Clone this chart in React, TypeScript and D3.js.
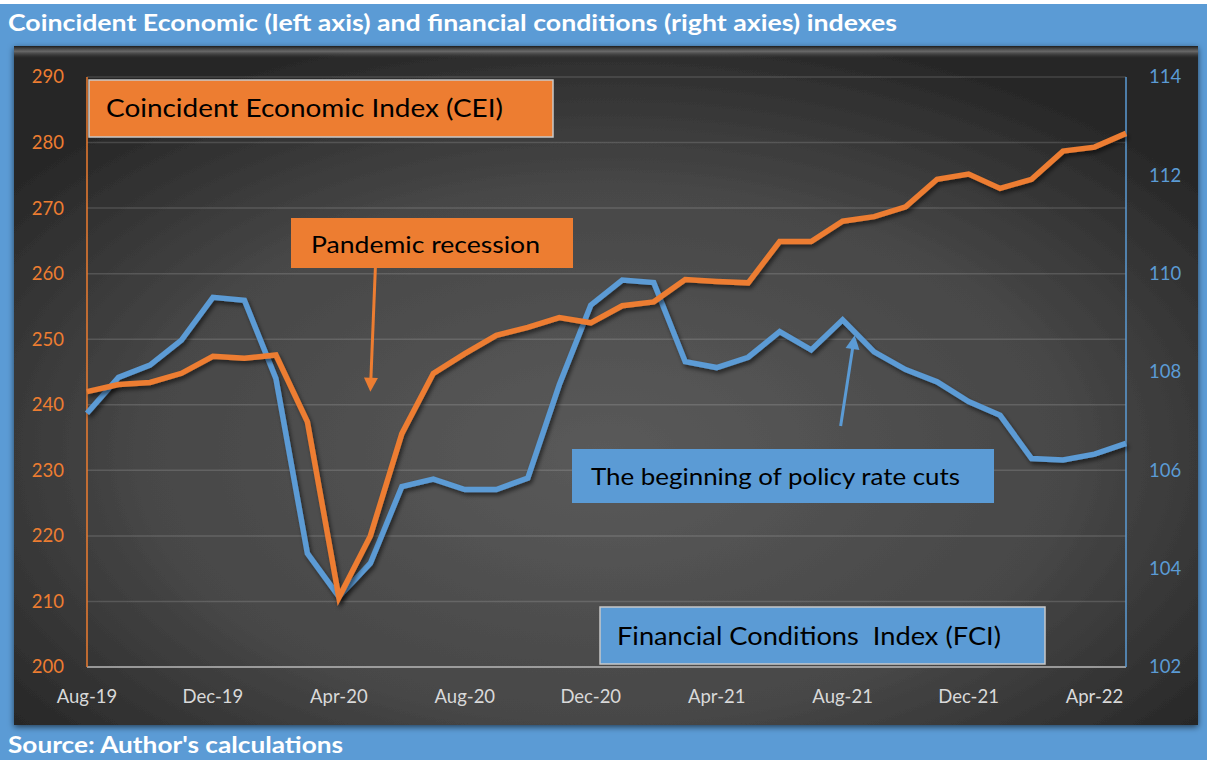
import * as d3 from 'd3';

const months = [
  'Aug-19', 'Sep-19', 'Oct-19', 'Nov-19', 'Dec-19', 'Jan-20', 'Feb-20', 'Mar-20', 'Apr-20',
  'May-20', 'Jun-20', 'Jul-20', 'Aug-20', 'Sep-20', 'Oct-20', 'Nov-20', 'Dec-20', 'Jan-21',
  'Feb-21', 'Mar-21', 'Apr-21', 'May-21', 'Jun-21', 'Jul-21', 'Aug-21', 'Sep-21', 'Oct-21',
  'Nov-21', 'Dec-21', 'Jan-22', 'Feb-22', 'Mar-22', 'Apr-22', 'May-22',
];

// Coincident Economic Index (left axis)
const cei = [
  242.0, 243.1, 243.4, 244.8, 247.4, 247.1, 247.6, 237.4, 210.6, 220.0, 235.6, 244.8,
  247.8, 250.6, 251.8, 253.3, 252.5, 255.1, 255.7, 259.1, 258.8, 258.6, 264.9, 264.9,
  268.0, 268.7, 270.2, 274.4, 275.2, 273.0, 274.4, 278.7, 279.3, 281.4,
];

// Financial Conditions Index (right axis)
const fci = [
  107.16, 107.89, 108.14, 108.65, 109.52, 109.46, 107.87, 104.31, 103.43, 104.11, 105.67, 105.82,
  105.61, 105.61, 105.84, 107.74, 109.36, 109.87, 109.82, 108.21, 108.09, 108.3, 108.82, 108.45,
  109.06, 108.41, 108.05, 107.8, 107.4, 107.12, 106.24, 106.21, 106.33, 106.55,
];

const leftTicks = [200, 210, 220, 230, 240, 250, 260, 270, 280, 290];
const rightTicks = [102, 104, 106, 108, 110, 112, 114];
const xLabels = ['Aug-19', 'Dec-19', 'Apr-20', 'Aug-20', 'Dec-20', 'Apr-21', 'Aug-21', 'Dec-21', 'Apr-22'];

const W = 1207;
const H = 760;
const ORANGE = '#ED7D31';
const BLUE = '#5B9BD5';
const FONT = 'Lato, "Open Sans", sans-serif';

const App = () => {
  const plot = { left: 87, right: 1126, top: 77, bottom: 667 };

  const x = d3.scalePoint<string>().domain(months).range([plot.left, plot.right]);
  const yL = d3.scaleLinear().domain([200, 290]).range([plot.bottom, plot.top]);
  const yR = d3.scaleLinear().domain([102, 114]).range([plot.bottom, plot.top]);

  const ceiLine = d3.line<number>()
    .x((_, i) => x(months[i])!)
    .y(d => yL(d));
  const fciLine = d3.line<number>()
    .x((_, i) => x(months[i])!)
    .y(d => yR(d));

  // arrow anchors in data units
  const recTip = { x: x('May-20')!, y: yL(242) };
  const recTail = { x: recTip.x + 5, y: 268 };
  const cutTip = { x: x('Aug-21')! + 12, y: yR(108.75) };
  const cutTail = { x: cutTip.x - 14, y: 426 };

  const arrowHead = (tip: { x: number; y: number }, tail: { x: number; y: number }, size = 14) => {
    const ang = Math.atan2(tip.y - tail.y, tip.x - tail.x);
    const bx = tip.x - Math.cos(ang) * size;
    const by = tip.y - Math.sin(ang) * size;
    const px = -Math.sin(ang) * size * 0.5;
    const py = Math.cos(ang) * size * 0.5;
    return `M${tip.x},${tip.y}L${bx + px},${by + py}L${bx - px},${by - py}Z`;
  };
  const shaftEnd = (tip: { x: number; y: number }, tail: { x: number; y: number }, size = 14) => {
    const ang = Math.atan2(tip.y - tail.y, tip.x - tail.x);
    return { x: tip.x - Math.cos(ang) * size * 0.8, y: tip.y - Math.sin(ang) * size * 0.8 };
  };

  const recEnd = shaftEnd(recTip, recTail);
  const cutEnd = shaftEnd(cutTip, cutTail);

  return (
    <svg width={W} height={H} style={{ position: 'absolute', left: 0, top: 0, display: 'block' }} fontFamily={FONT}>
      <defs>
        <radialGradient id="panelBg" cx="0.5" cy="0.6" r="0.65">
          <stop offset="0%" stopColor="#5a5a5a" />
          <stop offset="60%" stopColor="#474747" />
          <stop offset="100%" stopColor="#262626" />
        </radialGradient>
        <linearGradient id="bevel" x1="0" y1="0" x2="0" y2="1">
          <stop offset="0%" stopColor="#1c1c1c" />
          <stop offset="45%" stopColor="#777" stopOpacity={0.8} />
          <stop offset="100%" stopColor="#444" stopOpacity={0} />
        </linearGradient>
        <filter id="lineShadow" x="-5%" y="-5%" width="110%" height="115%">
          <feDropShadow dx="2" dy="3" stdDeviation="2" floodColor="#000" floodOpacity="0.55" />
        </filter>
        <filter id="panelShadow" x="-5%" y="-5%" width="110%" height="110%">
          <feDropShadow dx="0" dy="2" stdDeviation="3" floodColor="#000" floodOpacity="0.6" />
        </filter>
      </defs>

      <rect x={0} y={0} width={W} height={H} fill={BLUE} />
      <rect x={0} y={0} width={W} height={4} fill="#fff" />

      <text x={8} y={31} fill="#fff" fontSize={23} fontWeight={700} textLength={889} lengthAdjust="spacingAndGlyphs">
        Coincident Economic (left axis) and financial conditions (right axies) indexes
      </text>

      <rect x={14} y={46} width={1184} height={679} fill="url(#panelBg)" filter="url(#panelShadow)" />
      <rect x={14} y={46} width={1184} height={12} fill="url(#bevel)" />

      {/* gridlines */}
      {leftTicks.slice(1).map(t => (
        <line key={t} x1={plot.left} x2={plot.right} y1={yL(t)} y2={yL(t)} stroke="#ffffff" strokeOpacity={0.14} strokeWidth={1.5} />
      ))}
      <line x1={plot.left} x2={plot.right} y1={plot.bottom} y2={plot.bottom} stroke="#b8b8b8" strokeWidth={1.5} />
      <line x1={plot.left} x2={plot.left} y1={plot.top} y2={plot.bottom} stroke={ORANGE} strokeWidth={1.5} />
      <line x1={plot.right} x2={plot.right} y1={plot.top} y2={plot.bottom} stroke={BLUE} strokeWidth={1.5} />

      {leftTicks.map(t => (
        <text key={t} x={64} y={yL(t)} dy="0.35em" textAnchor="end" fill={ORANGE} fontSize={18.5}>{t}</text>
      ))}
      {rightTicks.map(t => (
        <text key={t} x={1149} y={yR(t)} dy="0.35em" fill={BLUE} fontSize={18.5}>{t}</text>
      ))}
      {xLabels.map(l => (
        <text key={l} x={x(l)} y={703} textAnchor="middle" fill="#d9d9d9" fontSize={18.5}>{l}</text>
      ))}

      {/* series */}
      <path d={fciLine(fci)!} fill="none" stroke={BLUE} strokeWidth={5.5} strokeLinejoin="miter" filter="url(#lineShadow)" />
      <path d={ceiLine(cei)!} fill="none" stroke={ORANGE} strokeWidth={5.5} strokeLinejoin="miter" filter="url(#lineShadow)" />

      {/* annotations */}
      <rect x={89} y={80} width={464} height={57} fill={ORANGE} stroke="#c8c8c8" strokeWidth={1.5} />
      <text x={106} y={117} fill="#000" fontSize={25} textLength={397} lengthAdjust="spacingAndGlyphs">
        Coincident Economic Index (CEI)
      </text>

      <rect x={291} y={218} width={282} height={50} fill={ORANGE} />
      <text x={311} y={253} fill="#000" fontSize={23} textLength={229} lengthAdjust="spacingAndGlyphs">
        Pandemic recession
      </text>
      <line x1={recTail.x} y1={recTail.y} x2={recEnd.x} y2={recEnd.y} stroke={ORANGE} strokeWidth={3} />
      <path d={arrowHead(recTip, recTail)} fill={ORANGE} />

      <rect x={572} y={449} width={422} height={54} fill={BLUE} />
      <text x={591} y={485} fill="#000" fontSize={23} textLength={369} lengthAdjust="spacingAndGlyphs">
        The beginning of policy rate cuts
      </text>
      <line x1={cutTail.x} y1={cutTail.y} x2={cutEnd.x} y2={cutEnd.y} stroke={BLUE} strokeWidth={3} />
      <path d={arrowHead(cutTip, cutTail)} fill={BLUE} />

      <rect x={600} y={607} width={445} height={57} fill={BLUE} stroke="#c8c8c8" strokeWidth={1.5} />
      <text x={617} y={645} fill="#000" fontSize={25} textLength={384} lengthAdjust="spacingAndGlyphs" style={{ whiteSpace: 'pre' }}>
        {'Financial Conditions  Index (FCI)'}
      </text>

      <text x={8} y={753} fill="#fff" fontSize={23} fontWeight={700} textLength={335} lengthAdjust="spacingAndGlyphs">
        Source: Author's calculations
      </text>
    </svg>
  );
};

export default App;
